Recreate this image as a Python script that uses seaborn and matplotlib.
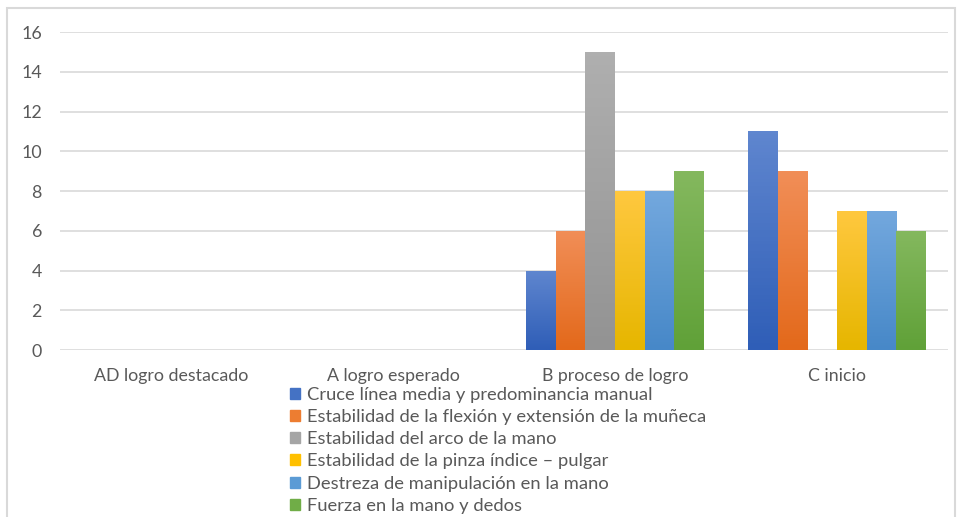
import matplotlib
matplotlib.use('Agg')
import matplotlib.pyplot as plt
import matplotlib.patches as mpatches
import matplotlib.colors as mcolors
import seaborn as sns
import numpy as np
import pandas as pd

# data
niveles = ['AD logro destacado', 'A logro esperado', 'B proceso de logro', 'C inicio']
indicadores = [
    'Cruce línea media y predominancia manual',
    'Estabilidad de la flexión y extensión de la muñeca',
    'Estabilidad del arco de la mano',
    'Estabilidad de la pinza índice – pulgar',
    'Destreza de manipulación en la mano',
    'Fuerza en la mano y dedos',
]
cruce = [0, 0, 4, 11]
flexion = [0, 0, 6, 9]
arco = [0, 0, 15, 0]
pinza = [0, 0, 8, 7]
destreza = [0, 0, 8, 7]
fuerza = [0, 0, 9, 6]

# colours: (top, bottom) of the gradient
colores = ['#4472C4', '#ED7D31', '#A5A5A5', '#FFC000', '#5B9BD5', '#70AD47']
grad = [('#5F86CF', '#2F5EB7'), ('#F18E57', '#E3691B'), ('#AFAFAF', '#939393'),
        ('#FFC83F', '#E6B600'), ('#73A8DE', '#4788C8'), ('#84B85E', '#60A138')]

series = [cruce, flexion, arco, pinza, destreza, fuerza]
df = pd.DataFrame({
    'nivel': np.repeat([niveles], len(indicadores), axis=0).ravel(),
    'indicador': np.repeat(indicadores, len(niveles)),
    'valor': np.concatenate(series),
})

sns.set_theme(style='white')
plt.rcParams['font.family'] = ['Lato', 'DejaVu Sans']
txt = '#595959'

fig = plt.figure(figsize=(9.6, 5.17), dpi=100)
ax = fig.add_axes([0.0625, 0.323, 0.925, 0.615])

sns.barplot(data=df, x='nivel', y='valor', hue='indicador', order=niveles,
            hue_order=indicadores, palette=colores, width=0.8, gap=0,
            saturation=1, legend=False, ax=ax, zorder=3)

# vertical gradient inside each bar
for i, cont in enumerate(ax.containers):
    top, bot = grad[i]
    cmap = mcolors.LinearSegmentedColormap.from_list('g%d' % i, [bot, top])
    for bar in cont:
        h = bar.get_height()
        if h <= 0:
            bar.set_visible(False)
            continue
        x0 = bar.get_x()
        w = bar.get_width()
        im = ax.imshow(np.linspace(0, 1, 64).reshape(-1, 1), cmap=cmap, origin='lower',
                       extent=[x0, x0 + w, 0, h], aspect='auto', zorder=3.5)
        im.set_clip_path(bar)
        bar.set_edgecolor('none')

ax.set_xlim(-0.5, 3.5)
ax.set_ylim(0, 16)
ax.set_yticks(range(0, 17, 2))
ax.yaxis.grid(True, color='#D9D9D9', linewidth=1.2, zorder=0)
ax.set_axisbelow(True)
for s in ax.spines.values():
    s.set_visible(False)
ax.set_xlabel('')
ax.set_ylabel('')
ax.tick_params(axis='both', length=0, colors=txt, labelsize=12.8)
ax.tick_params(axis='y', pad=13)
ax.tick_params(axis='x', pad=13)

handles = [mpatches.Patch(color=c, label=l) for c, l in zip(colores, indicadores)]
fig.legend(handles=handles, loc='upper left', bbox_to_anchor=(0.302, 0.252),
           frameon=False, fontsize=13.2, labelcolor=txt, handlelength=0.55,
           handleheight=0.55, handletextpad=0.4, labelspacing=0.34,
           borderaxespad=0, borderpad=0)

# outer chart border
fig.patches.append(mpatches.Rectangle((7 / 960, -0.1), 948 / 960, 1 - 8 / 517 + 0.1,
                                      transform=fig.transFigure, fill=False,
                                      edgecolor='#D9D9D9', linewidth=1.5))

fig.savefig('out.png', dpi=100)
